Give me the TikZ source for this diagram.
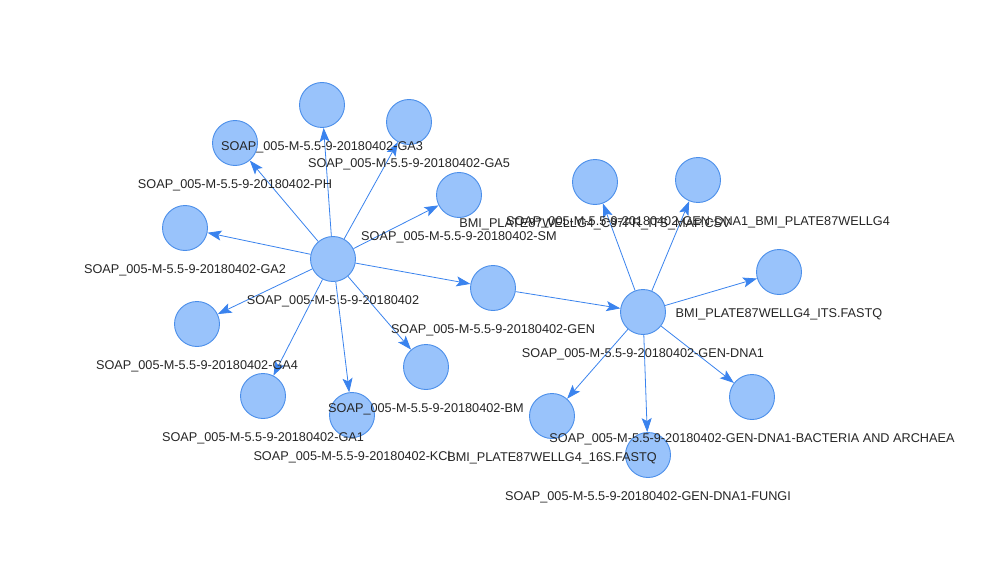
\documentclass[tikz,border=0pt]{standalone}
\usepackage{fontspec}
\setmainfont{Liberation Sans}
\usetikzlibrary{arrows.meta,positioning}
\definecolor{vtxfill}{HTML}{99C3FB}
\definecolor{vtxline}{HTML}{4A8EEA}
\definecolor{edgeblue}{HTML}{3A83EE}
\definecolor{lbltext}{HTML}{262626}

\begin{document}
\begin{tikzpicture}[x=1pt,y=-1pt,
  vtx/.style={circle,draw=vtxline,fill=vtxfill,line width=0.9pt,minimum size=45pt,inner sep=0pt},
  lbl/.style={inner sep=0pt,text=lbltext,font=\fontsize{12.7}{15}\selectfont},
  ar/.style={-{Stealth[length=14pt,width=10pt,inset=3pt]},edgeblue,line width=0.8pt}]
  \useasboundingbox[fill=white] (0,0) rectangle (1000,588);
  % sample and its sub-samples
  \node[vtx] (hub) at (333,259) {};
  \node[vtx] (ga3) at (322,105) {};
  \node[vtx] (ph) at (235,143) {};
  \node[vtx] (ga5) at (409,122) {};
  \node[vtx] (sm) at (459,195) {};
  \node[vtx] (ga2) at (185,228) {};
  \node[vtx] (ga4) at (197,324) {};
  \node[vtx] (ga1) at (263,396) {};
  \node[vtx] (kcl) at (352,415) {};
  \node[vtx] (bm) at (426,367) {};
  \node[vtx] (gen) at (493,288) {};
  % dna extraction and its files
  \node[vtx] (dna) at (643,312) {};
  \node[vtx] (itsmap) at (595,182) {};
  \node[vtx] (g4) at (698,180) {};
  \node[vtx] (itsfq) at (779,272) {};
  \node[vtx] (bact) at (752,397) {};
  \node[vtx] (s16) at (552,416) {};
  \node[vtx] (fungi) at (648,455) {};
  \draw[ar] (hub)--(ga3); \draw[ar] (hub)--(ph); \draw[ar] (hub)--(ga5); \draw[ar] (hub)--(sm);
  \draw[ar] (hub)--(ga2); \draw[ar] (hub)--(ga4); \draw[ar] (hub)--(ga1); \draw[ar] (hub)--(kcl);
  \draw[ar] (hub)--(bm); \draw[ar] (hub)--(gen); \draw[ar] (gen)--(dna);
  \draw[ar] (dna)--(itsmap); \draw[ar] (dna)--(g4); \draw[ar] (dna)--(itsfq);
  \draw[ar] (dna)--(bact); \draw[ar] (dna)--(fungi); \draw[ar] (dna)--(s16);
  % labels last, so they sit on top
  \node[lbl,below=13pt of hub] (hub-t) {SOAP\_005-M-5.5-9-20180402};
  \node[lbl,below=13pt of ga3] (ga3-t) {SOAP\_005-M-5.5-9-20180402-GA3};
  \node[lbl,below=13pt of ph] (ph-t) {SOAP\_005-M-5.5-9-20180402-PH};
  \node[lbl,below=13pt of ga5] (ga5-t) {SOAP\_005-M-5.5-9-20180402-GA5};
  \node[lbl,below=13pt of sm] (sm-t) {SOAP\_005-M-5.5-9-20180402-SM};
  \node[lbl,below=13pt of ga2] (ga2-t) {SOAP\_005-M-5.5-9-20180402-GA2};
  \node[lbl,below=13pt of ga4] (ga4-t) {SOAP\_005-M-5.5-9-20180402-GA4};
  \node[lbl,below=13pt of ga1] (ga1-t) {SOAP\_005-M-5.5-9-20180402-GA1};
  \node[lbl,below=13pt of kcl] (kcl-t) {SOAP\_005-M-5.5-9-20180402-KCl};
  \node[lbl,below=13pt of bm] (bm-t) {SOAP\_005-M-5.5-9-20180402-BM};
  \node[lbl,below=13pt of gen] (gen-t) {SOAP\_005-M-5.5-9-20180402-GEN};
  \node[lbl,below=13pt of dna] (dna-t) {SOAP\_005-M-5.5-9-20180402-GEN-DNA1};
  \node[lbl,below=13pt of itsmap] (itsmap-t) {BMI\_PLATE87WELLG4\_C97FR\_ITS\_MAP.CSV};
  \node[lbl,below=13pt of g4] (g4-t) {SOAP\_005-M-5.5-9-20180402-GEN-DNA1\_BMI\_PLATE87WELLG4};
  \node[lbl,below=13pt of itsfq] (itsfq-t) {BMI\_PLATE87WELLG4\_ITS.FASTQ};
  \node[lbl,below=13pt of bact] (bact-t) {SOAP\_005-M-5.5-9-20180402-GEN-DNA1-BACTERIA AND ARCHAEA};
  \node[lbl,below=13pt of s16] (s16-t) {BMI\_PLATE87WELLG4\_16S.FASTQ};
  \node[lbl,below=13pt of fungi] (fungi-t) {SOAP\_005-M-5.5-9-20180402-GEN-DNA1-FUNGI};
\end{tikzpicture}
\end{document}
